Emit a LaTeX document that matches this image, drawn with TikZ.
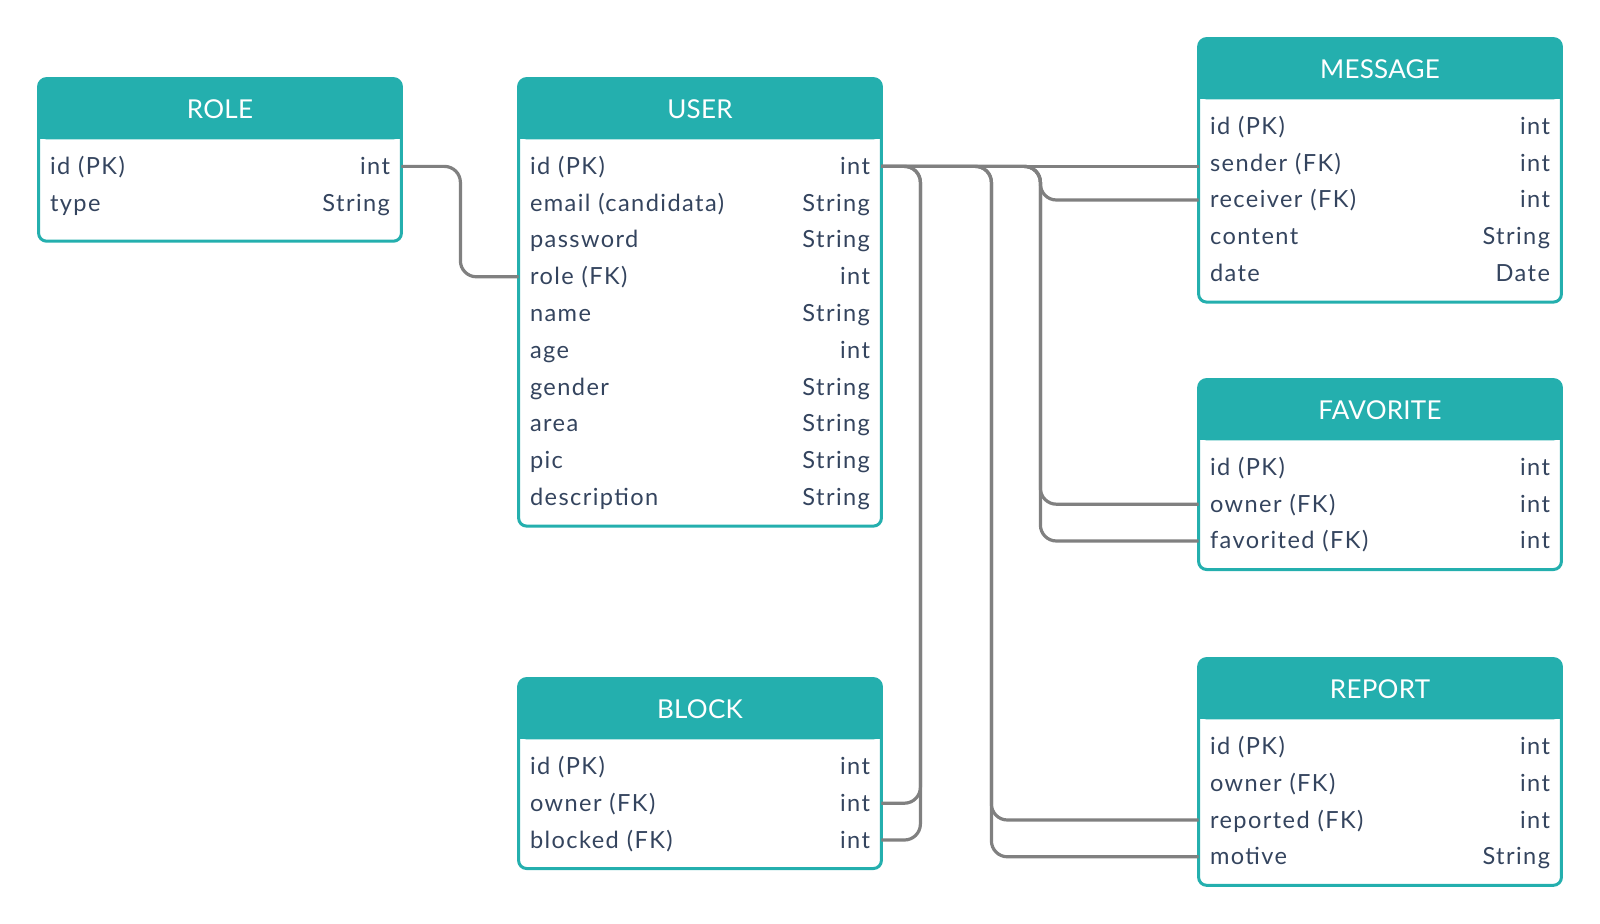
\documentclass[tikz,border=0pt]{standalone}
\usepackage{fontspec}
\setmainfont{Lato}[LetterSpace=6]
\usepackage{xcolor}
\usetikzlibrary{positioning}
\definecolor{erTeal}{HTML}{24AFAE}
\definecolor{erInk}{HTML}{34445E}
\definecolor{erLink}{HTML}{808080}
\pgfdeclarelayer{back}
\pgfsetlayers{back,main}

\begin{document}
\begin{tikzpicture}[x=0.5pt, y=-0.5pt,
  head/.style={minimum width=181pt, minimum height=30pt, inner sep=0pt,
               text=white, font=\fontsize{13}{15}\selectfont\addfontfeatures{LetterSpace=1}},
  row/.style={minimum height=18.4pt, inner xsep=5.5pt, inner ysep=0pt,
              text width=170pt, text height=9.8pt, text depth=1.8pt,
              text=erInk, font=\fontsize{11.8}{14}\selectfont},
  frame/.style={draw=erTeal, line width=1.5pt, rounded corners=4pt},
  link/.style={draw=erLink, line width=1.6pt, rounded corners=8pt}
]
\useasboundingbox (0,0) rectangle (1600,924);

% tables
\node[head] (role) at (220,109) {ROLE};
\foreach \n/\f/\t [count=\i] in {id/id (PK)/int, type/type/String}
  \node[row] (role-\n) at ([yshift={-(18.4*\i-4.9)*1pt}]role.south) {\f\hfill\t};

\node[head] (user) at (700,109) {USER};
\foreach \n/\f/\t [count=\i] in {id/id (PK)/int, email/email (candidata)/String,
    password/password/String, role/role (FK)/int, name/name/String, age/age/int,
    gender/gender/String, area/area/String, pic/pic/String,
    description/description/String}
  \node[row] (user-\n) at ([yshift={-(18.4*\i-4.9)*1pt}]user.south) {\f\hfill\t};

\node[head] (block) at (700,709) {BLOCK};
\foreach \n/\f/\t [count=\i] in {id/id (PK)/int, owner/owner (FK)/int,
    blocked/blocked (FK)/int}
  \node[row] (block-\n) at ([yshift={-(18.4*\i-4.9)*1pt}]block.south) {\f\hfill\t};

\node[head] (message) at (1380,69) {MESSAGE};
\foreach \n/\f/\t [count=\i] in {id/id (PK)/int, sender/sender (FK)/int,
    receiver/receiver (FK)/int, content/content/String, date/date/Date}
  \node[row] (message-\n) at ([yshift={-(18.4*\i-4.9)*1pt}]message.south) {\f\hfill\t};

\node[head] (favorite) at (1380,410) {FAVORITE};
\foreach \n/\f/\t [count=\i] in {id/id (PK)/int, owner/owner (FK)/int,
    favorited/favorited (FK)/int}
  \node[row] (favorite-\n) at ([yshift={-(18.4*\i-4.9)*1pt}]favorite.south) {\f\hfill\t};

\node[head] (report) at (1380,689) {REPORT};
\foreach \n/\f/\t [count=\i] in {id/id (PK)/int, owner/owner (FK)/int,
    reported/reported (FK)/int, motive/motive/String}
  \node[row] (report-\n) at ([yshift={-(18.4*\i-4.9)*1pt}]report.south) {\f\hfill\t};

% header fills and outlines
\foreach \t/\last/\pad in {role/type/19, user/description/14.25, block/blocked/14.25,
    message/date/14.25, favorite/favorited/14.25, report/motive/14.25} {
  \begin{pgfonlayer}{back}
    \fill[erTeal, rounded corners=4pt] (\t.north west) rectangle (\t.south east);
    \fill[erTeal] (\t.west) rectangle (\t.south east);
  \end{pgfonlayer}
  \draw[frame] (\t.north west) rectangle ([yshift=-\pad pt]\t-\last.east);
}

% relations
\draw[link] (role-id.east) -- ++(59,0) |- (user-role.west);
\foreach \b in {owner, blocked}
  \draw[link] (user-id.east) -- ++(39,0) |- (block-\b.east);
\foreach \b in {reported, motive}
  \draw[link] (user-id.east) -- ++(110,0) |- (report-\b.west);
\foreach \b in {owner, favorited}
  \draw[link] (user-id.east) -- ++(159,0) |- (favorite-\b.west);
\draw[link] (user-id.east) -- ++(159,0) |- (message-receiver.west);
\draw[link] (user-id.east) -- (message-sender.west |- user-id.east);
\end{tikzpicture}
\end{document}
